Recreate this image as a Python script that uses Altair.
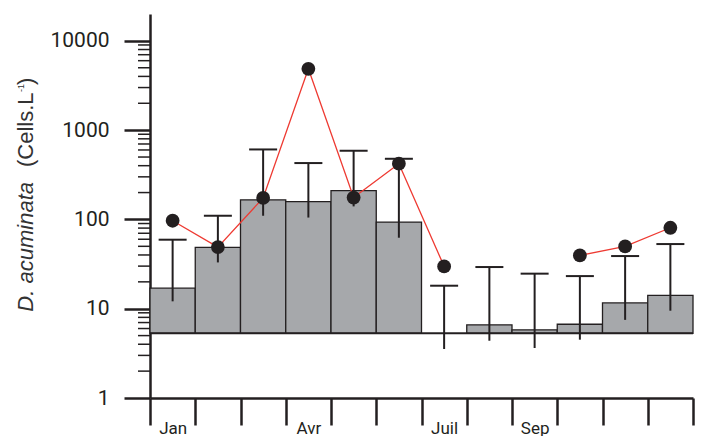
import altair as alt
import pandas as pd

# ---- data ----
months = ["Jan", "Fév", "Mar", "Avr", "Mai", "Juin", "Juil", "Août", "Sep", "Oct", "Nov", "Déc"]
shown_labels = ["Jan", "", "", "Avr", "", "", "Juil", "", "Sep", "", "", ""]
bar_values = [17, 48.6, 166, 158, 210, 93.5, None, 6.6, 5.8, 6.7, 11.6, 14.1]
err_high = [59.3, 110, 608, 428, 588, 478, 18.1, 29.3, 24.7, 23.2, 38.9, 53]
err_low = [12.1, 33, 110, 105, 140, 62.4, 3.54, 4.38, 3.63, 4.5, 7.5, 9.5]
dot_values = [96.7, 49, 174, 4870, 176, 421, 29.8, None, None, 39.5, 49.9, 80.7]
dot_segment = [1, 1, 1, 1, 1, 1, 1, None, None, 2, 2, 2]
baseline = 5.3
major_ticks = [1, 10, 100, 1000, 10000]
minor_ticks = [m * 10 ** d for d in range(4) for m in range(2, 10)]

W, H = 543, 384
INK = "#231f20"

df = pd.DataFrame({
    "month": months,
    "start": list(range(12)),
    "end": [i + 1 for i in range(12)],
    "mid": [i + 0.5 for i in range(12)],
    "bar": bar_values,
    "base": [baseline] * 12,
    "hi": err_high,
    "lo": err_low,
    "dot": dot_values,
    "seg": dot_segment,
})
bars_df = df[df["bar"].notna()]
dots_df = df[df["dot"].notna()]
minor_df = pd.DataFrame({"v": minor_ticks})
base_df = pd.DataFrame({"b": [baseline]})

label_expr = "[" + ",".join("'%s'" % s for s in shown_labels) + ",''][datum.value]"

xs = alt.Scale(domain=[0, 12], nice=False, zero=False)
ys = alt.Scale(type="log", domain=[1, 20000], nice=False)

x_axis = alt.Axis(values=list(range(13)), labelExpr=label_expr, title=None,
                  tickSize=27, tickWidth=2.5, domainWidth=2.5, tickColor=INK, domainColor=INK,
                  labelAlign="center", labelBaseline="top", labelOffset=W / 24, labelPadding=-5,
                  labelFont="Roboto", labelFontSize=17, labelColor=INK, labelOverlap=False,
                  grid=False)
y_axis = alt.Axis(values=major_ticks, format="d", title=None,
                  tickSize=26, tickWidth=2.5, domainWidth=2.5, tickColor=INK, domainColor=INK,
                  labelPadding=15, labelFont="Roboto", labelFontSize=21, labelColor=INK,
                  grid=False, labelOverlap=False)

bars = alt.Chart(bars_df).mark_rect(fill="#a6a8ab", stroke=INK, strokeWidth=1.3).encode(
    x=alt.X("start:Q", scale=xs, axis=x_axis),
    x2="end:Q",
    y=alt.Y("bar:Q", scale=ys, axis=y_axis),
    y2="base:Q",
)

base_rule = alt.Chart(base_df).mark_rule(color=INK, strokeWidth=2).encode(
    y=alt.Y("b:Q", scale=ys)
)

err = alt.Chart(df).mark_rule(color=INK, strokeWidth=2).encode(
    x=alt.X("mid:Q", scale=xs), y=alt.Y("lo:Q", scale=ys), y2="hi:Q"
)
caps = alt.Chart(df).mark_tick(color=INK, orient="horizontal", size=28, thickness=2, opacity=1).encode(
    x=alt.X("mid:Q", scale=xs), y=alt.Y("hi:Q", scale=ys)
)

line = alt.Chart(dots_df).mark_line(color="#ee3a32", strokeWidth=1.3).encode(
    x=alt.X("mid:Q", scale=xs), y=alt.Y("dot:Q", scale=ys), detail="seg:N"
)
points = alt.Chart(dots_df).mark_circle(color=INK, size=190, opacity=1).encode(
    x=alt.X("mid:Q", scale=xs), y=alt.Y("dot:Q", scale=ys)
)

minor = alt.Chart(minor_df).mark_rule(color=INK, strokeWidth=1.5).encode(
    y=alt.Y("v:Q", scale=ys), x=alt.value(-12), x2=alt.value(0)
)

# rotated y title: italic species name, unit, superscript
TX = -117
title_it = alt.Chart(base_df).mark_text(
    text="D. acuminata", angle=270, align="right", baseline="alphabetic",
    font="Liberation Sans", fontStyle="italic", fontSize=22, color="#333333"
).encode(x=alt.value(TX), y=alt.value(168))
title_unit = alt.Chart(base_df).mark_text(
    text="(Cells.L", angle=270, align="left", baseline="alphabetic",
    font="Liberation Sans", fontSize=22, color="#333333"
).encode(x=alt.value(TX), y=alt.value(153))
title_sup = alt.Chart(base_df).mark_text(
    text="-1", angle=270, align="left", baseline="alphabetic",
    font="Liberation Sans", fontSize=9, color="#333333"
).encode(x=alt.value(TX - 9), y=alt.value(78))
title_close = alt.Chart(base_df).mark_text(
    text=")", angle=270, align="left", baseline="alphabetic",
    font="Liberation Sans", fontSize=22, color="#333333"
).encode(x=alt.value(TX), y=alt.value(71))

chart = alt.layer(
    bars, base_rule, err, caps, line, points, minor,
    title_it, title_unit, title_sup, title_close
).properties(
    width=W, height=H,
    autosize=alt.AutoSizeParams(type="none"),
    padding={"left": 142, "top": 6, "right": 4, "bottom": 38},
).configure_view(stroke=None)

chart.save("out.html", embed_options={"renderer": "svg", "actions": False})
